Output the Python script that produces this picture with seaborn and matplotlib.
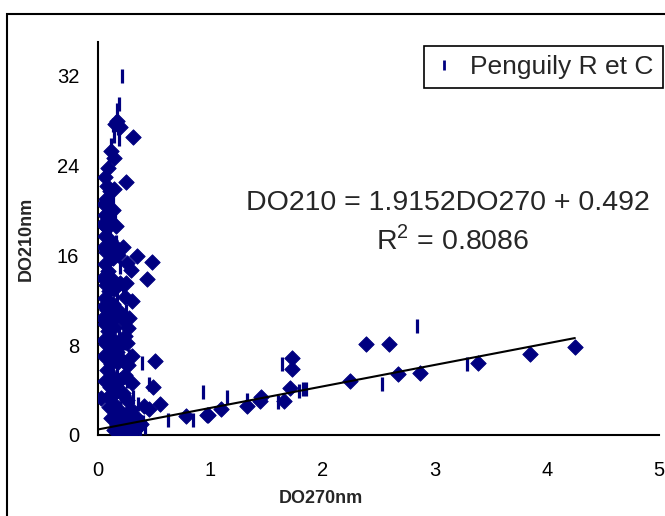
import matplotlib
matplotlib.use("Agg")
import matplotlib.pyplot as plt
from matplotlib.patches import Rectangle
from matplotlib.lines import Line2D
import seaborn as sns
import pandas as pd

# data
dia_x = [0.06, 0.08, 0.11, 0.14, 0.07, 0.10, 0.06, 0.12, 0.08, 0.06, 0.10, 0.07, 0.13, 0.06,
         0.09, 0.12, 0.07, 0.10, 0.06, 0.13, 0.08, 0.11, 0.06, 0.09, 0.12, 0.07, 0.15, 0.10,
         0.18, 0.08, 0.13, 0.20, 0.11, 0.16, 0.22, 0.14, 0.19, 0.12, 0.17, 0.14,
         0.09, 0.05, 0.13, 0.04, 0.11, 0.05, 0.15, 0.04, 0.14, 0.05, 0.16, 0.04, 0.14, 0.05,
         0.10, 0.17, 0.05, 0.12, 0.22, 0.06, 0.18, 0.09, 0.26, 0.10, 0.22, 0.16, 0.28, 0.33,
         0.19, 0.28, 0.32, 0.25, 0.28, 0.26, 0.30, 0.16,
         0.17, 0.20, 0.15, 0.31, 0.12, 0.14, 0.25, 0.22, 0.18, 0.26, 0.35, 0.29, 0.20, 0.24,
         0.30, 0.19, 0.22, 0.27, 0.24, 0.19, 0.27, 0.24, 0.30, 0.22, 0.29, 0.34, 0.25, 0.30,
         0.21, 0.38, 0.27,
         0.48, 0.44, 0.51, 0.49, 0.55, 0.45, 0.03, 0.41,
         0.78, 0.97, 0.98, 1.10, 1.33, 1.44, 1.45, 1.66, 1.71, 1.73, 1.73, 2.25, 2.39, 2.59,
         2.67, 2.87, 3.39, 3.85, 4.25]
dia_y = [23.0, 22.2, 21.7, 21.9, 21.0, 20.3, 19.6, 19.0, 18.4, 17.7, 17.0, 16.3, 15.8, 15.2,
         14.6, 14.0, 13.4, 12.8, 12.2, 11.7, 11.1, 10.5, 9.9, 9.3, 8.7, 8.1, 7.6, 7.0,
         6.5, 5.8, 5.2, 4.9, 4.3, 3.8, 3.6, 2.8, 2.2, 1.5, 0.9, 0.4,
         23.8, 20.6, 20.0, 18.8, 17.4, 16.7, 16.8, 14.0, 13.0, 11.5, 10.6, 10.4, 9.6, 8.5,
         8.2, 7.4, 7.0, 6.3, 6.6, 4.8, 4.7, 3.4, 3.1, 2.5, 1.8, 1.6, 0.9, 0.4,
         0.1, 2.0, 1.2, 13.5, 10.4, 8.2, 7.0, 18.6,
         28.0, 27.4, 27.7, 26.5, 25.3, 24.7, 22.5, 16.7, 16.0, 15.3, 15.9, 14.7, 13.5, 12.3,
         11.9, 11.0, 10.2, 9.5, 8.8, 8.2, 6.2, 5.3, 4.6, 3.7, 2.3, 1.6, 1.1, 0.6,
         0.3, 1.0, 0.2,
         15.4, 13.9, 6.6, 4.3, 2.8, 2.3, 3.3, 2.6,
         1.7, 1.8, 1.8, 2.3, 2.6, 3.0, 3.4, 3.0, 4.2, 5.9, 6.9, 4.8, 8.1, 8.1,
         5.4, 5.5, 6.4, 7.2, 7.8]

pen_x = [0.21, 0.19, 0.17, 0.13, 0.16, 0.18, 0.14, 0.19, 0.12, 0.10, 0.13, 0.15, 0.11, 0.16,
         0.14, 0.20, 0.12, 0.22, 0.17, 0.25, 0.15, 0.19, 0.23, 0.21, 0.28, 0.17, 0.39, 0.12,
         0.15, 0.26, 0.45, 0.36, 0.31, 0.20, 0.18, 0.24, 0.28, 0.33, 0.37, 0.40, 0.16, 0.22,
         0.30, 0.14, 0.26, 0.20, 0.35, 0.42, 0.12, 0.27,
         0.62, 0.85, 0.94, 1.15, 1.33, 1.60, 1.64, 1.79, 1.83, 1.85, 2.53, 2.84, 3.29]
pen_y = [32.0, 29.5, 28.9, 27.6, 27.9, 27.3, 26.6, 26.4, 25.8, 24.0, 21.0, 19.5, 18.0, 17.2,
         16.0, 15.0, 14.2, 13.1, 12.5, 11.0, 10.0, 9.0, 8.2, 7.3, 7.0, 6.0, 6.4, 5.5,
         3.8, 4.8, 4.5, 2.8, 3.4, 2.4, 1.5, 0.9, 1.3, 0.8, 0.5, 1.2, 0.3, 0.5,
         0.2, 0.8, 0.4, 1.0, 1.4, 0.7, 1.1, 2.0,
         1.3, 1.3, 3.8, 3.4, 3.1, 2.9, 6.3, 3.9, 4.1, 4.1, 4.5, 9.7, 6.3]

slope = 1.9152
intercept = 0.492
trend_x = [0.0, 4.25]

navy = "#000080"

sns.set_style("white")
plt.rcParams['font.family'] = ['Liberation Sans', 'DejaVu Sans']
plt.rcParams['mathtext.fontset'] = 'custom'
plt.rcParams['mathtext.rm'] = 'Liberation Sans'

fig = plt.figure(figsize=(6.65, 5.16), dpi=100)
ax = fig.add_axes([0.1474, 0.157, 0.8436, 0.7616])

dia = pd.DataFrame({"x": dia_x, "y": dia_y})
pen = pd.DataFrame({"x": pen_x, "y": pen_y})

sns.scatterplot(data=dia, x="x", y="y", marker="D", s=62, color=navy,
                edgecolor=navy, linewidth=0.6, ax=ax, zorder=3)
sns.scatterplot(data=pen, x="x", y="y", marker="|", s=115, color=navy,
                linewidth=2.3, ax=ax, zorder=4)
sns.lineplot(x=trend_x, y=[slope * v + intercept for v in trend_x], color="black",
             linewidth=1.5, ax=ax, zorder=5)

ax.set_xlim(0, 5)
ax.set_ylim(0, 35)
ax.set_xticks([0, 1, 2, 3, 4, 5])
ax.set_yticks([0, 8, 16, 24, 32])
for s in ["top", "right"]:
    ax.spines[s].set_visible(False)
for s in ["left", "bottom"]:
    ax.spines[s].set_color("black")
    ax.spines[s].set_linewidth(1.5)
ax.tick_params(axis="both", direction="inout", length=9, width=1.3, colors="black",
               labelsize=14.5)
ax.tick_params(axis="x", pad=14)
ax.tick_params(axis="y", pad=9)

ax.set_xlabel("DO270nm", fontsize=13, fontweight="bold")
ax.set_ylabel("DO210nm", fontsize=13, fontweight="bold")
ax.xaxis.set_label_coords((321 - 98) / 561, -(490 - 435) / 393)
ax.yaxis.set_label_coords(-(98 - 35) / 561, 0.5)

handle = Line2D([], [], linestyle="none", marker="|", color=navy,
                markersize=7, markeredgewidth=2)
leg = ax.legend([handle], ["Penguily R et C"], loc="upper right",
                bbox_to_anchor=(663 / 665, 1 - 46 / 516), bbox_transform=fig.transFigure,
                fontsize=19, frameon=True, fancybox=False, framealpha=1,
                edgecolor="black", handlelength=0.8, handletextpad=0.6,
                borderpad=0.35, borderaxespad=0)
leg.get_frame().set_linewidth(1.2)

fig.text(448 / 665, 1 - 203 / 516, "DO210 = 1.9152DO270 + 0.492", fontsize=20.5,
         ha="center", va="center")
fig.text(453 / 665, 1 - 240 / 516, r"R$^{\mathrm{2}}$ = 0.8086", fontsize=20.5,
         ha="center", va="center")

fig.add_artist(Rectangle((7 / 665, -0.1), 1.1, 1.1 - 14 / 516,
                         transform=fig.transFigure, fill=False, edgecolor="black",
                         linewidth=1.5, clip_on=False))

fig.savefig("out.png", dpi=100)
